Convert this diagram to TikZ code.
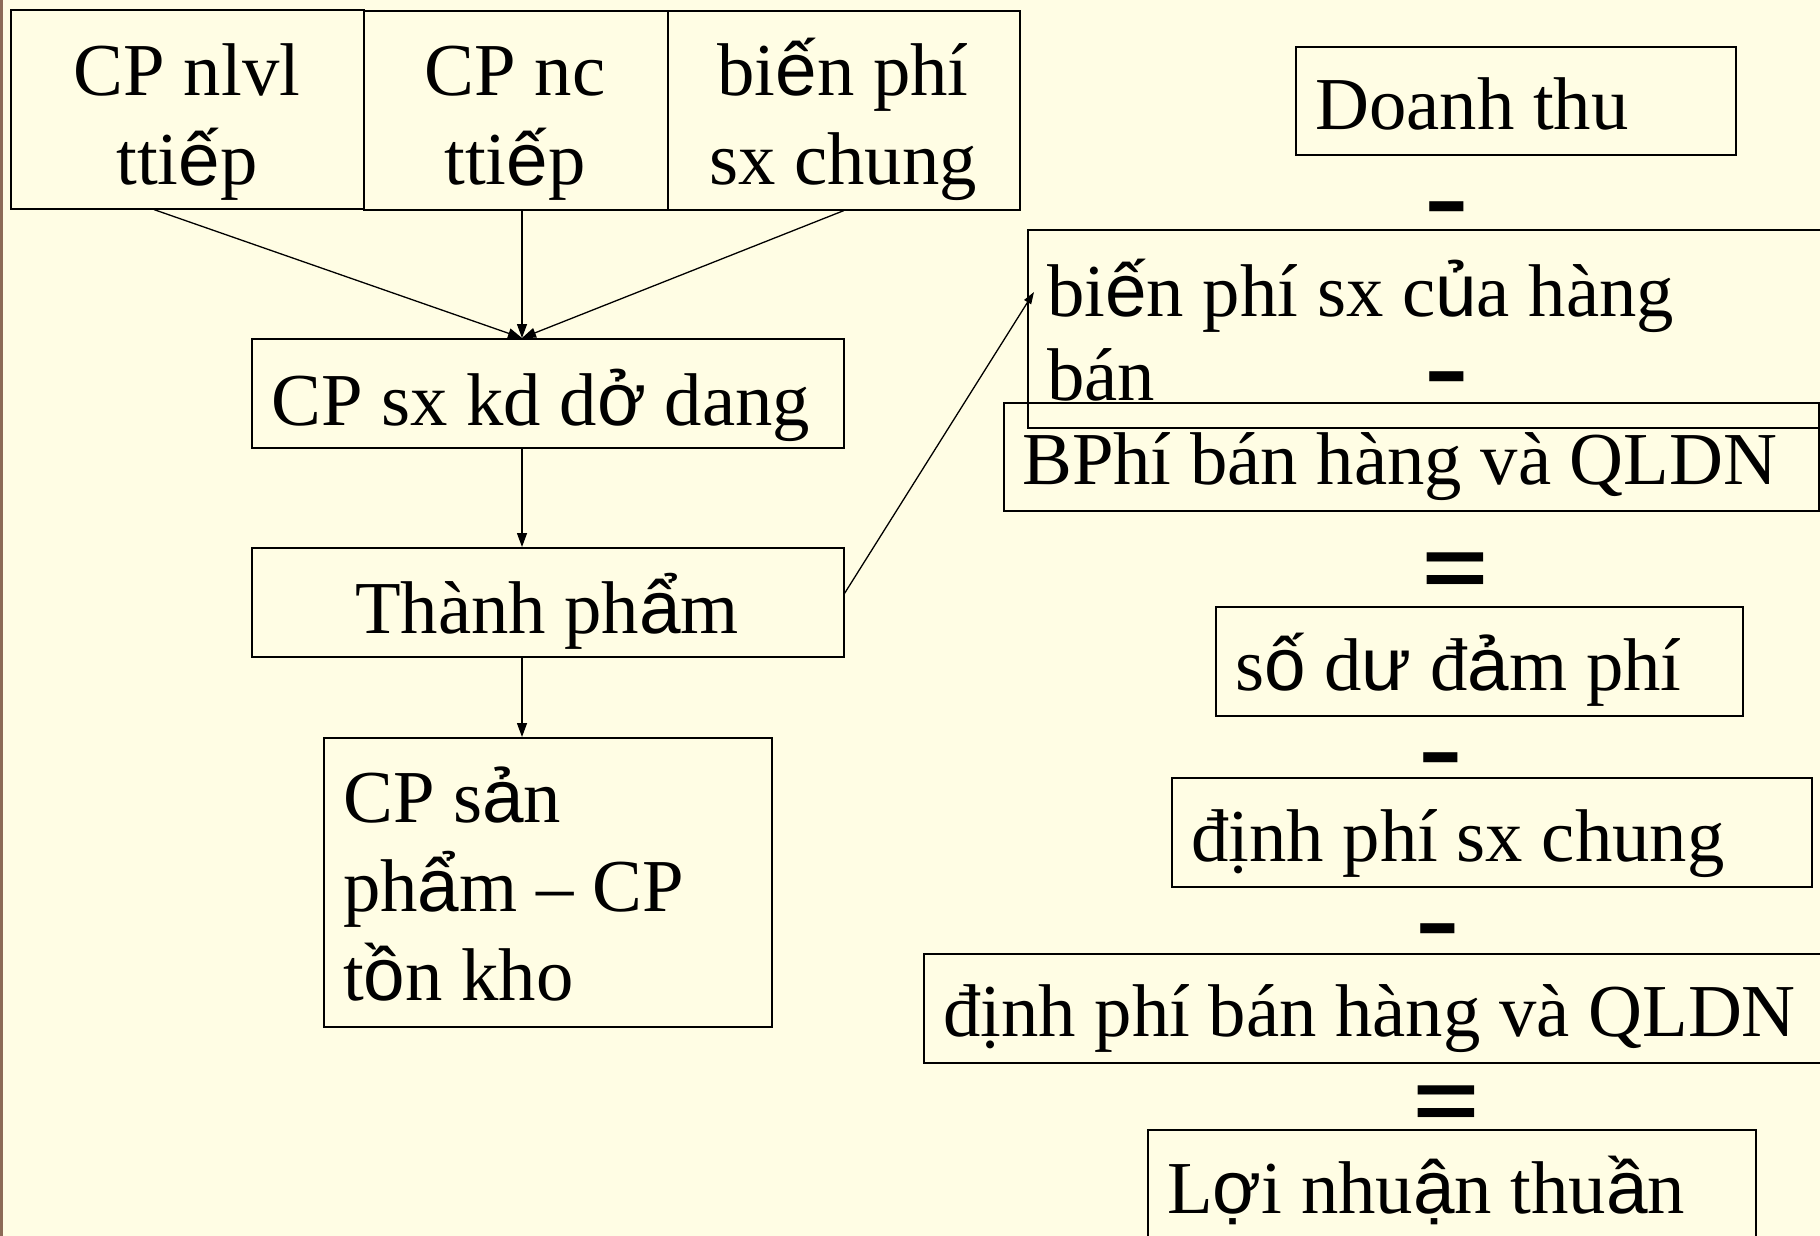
\documentclass[tikz,border=0pt]{standalone}
\usepackage{fontspec}
\setmainfont{Liberation Serif}
\newfontfamily\opfont{Liberation Sans Bold}
\newfontfamily\vnsans{Liberation Sans}
\newcommand\vsf[1]{{\vnsans #1}}
\usetikzlibrary{arrows.meta,calc}
\definecolor{bgcream}{RGB}{255,253,228}
\definecolor{edgebrown}{RGB}{140,106,86}
\begin{document}
\begin{tikzpicture}[x=1pt,y=-1pt,
  box/.style={draw=black, line width=1.6pt, inner sep=0pt, anchor=north west},
  txt/.style={inner sep=0pt, font=\fontsize{74.7}{89}\selectfont},
  arr/.style={line width=1.3pt, -{Triangle[length=14pt,width=10pt]}},
  op/.style={inner sep=0pt, anchor=base, font=\opfont\fontsize{84}{84}\selectfont}]
\fill[bgcream] (0,0) rectangle (1820,1236);
\fill[edgebrown] (0,0) rectangle (3,1236);
\useasboundingbox (0,0) rectangle (1820,1236);
% left column boxes
\node[box, minimum width=353pt, minimum height=199pt] (b1) at (10,9) {};
\node[box, minimum width=304pt, minimum height=199pt] (b2) at (363,10) {};
\node[box, minimum width=352pt, minimum height=199pt] (b3) at (667,10) {};
\node[box, minimum width=592pt, minimum height=109pt] (b4) at (251,338) {};
\node[box, minimum width=592pt, minimum height=109pt] (b5) at (251,547) {};
\node[box, minimum width=448pt, minimum height=289pt] (b6) at (323,737) {};
% right column boxes
\node[box, minimum width=440pt, minimum height=108pt] (r1) at (1295,46) {};
\node[box, minimum width=810pt, minimum height=198pt] (r2) at (1027,229) {};
\node[box, minimum width=815pt, minimum height=108pt] (r3) at (1003,402) {};
\node[box, minimum width=527pt, minimum height=109pt] (r4) at (1215,606) {};
\node[box, minimum width=640pt, minimum height=109pt] (r5) at (1171,777) {};
\node[box, minimum width=910pt, minimum height=109pt] (r6) at (923,953) {};
\node[box, minimum width=608pt, minimum height=140pt] (r7) at (1147,1129) {};
% texts
\node[txt, anchor=base] (t1) at (187,96) {\begin{tabular}[t]{@{}c@{}}CP nlvl\\tti\vsf{ế}p\end{tabular}};
\node[txt, anchor=base] (t2) at (515,96) {\begin{tabular}[t]{@{}c@{}}CP nc\\tti\vsf{ế}p\end{tabular}};
\node[txt, anchor=base] (t3) at (843,96) {\begin{tabular}[t]{@{}c@{}}bi\vsf{ế}n phí\\sx chung\end{tabular}};
\node[txt, anchor=base west] (t4) at (271,425) {CP sx kd d\vsf{ở} dang};
\node[txt, anchor=base] (t5) at (547,633) {Thành ph\vsf{ẩ}m};
\node[txt, anchor=base west] (t6) at (343,822) {\begin{tabular}[t]{@{}l@{}}CP s\vsf{ả}n\\ph\vsf{ẩ}m – CP\\t\vsf{ồ}n kho\end{tabular}};
\node[txt, anchor=base west] (s1) at (1315,130) {Doanh thu};
\node[txt, anchor=base west] (s2) at (1047,316) {\begin{tabular}[t]{@{}l@{}}bi\vsf{ế}n phí sx c\vsf{ủ}a hàng\\[-5pt]bán\end{tabular}};
\node[txt, anchor=base west] (s3) at (1022,484) {BPhí bán hàng và QLDN};
\node[txt, anchor=base west] (s4) at (1235,690) {s\vsf{ố} d\vsf{ư} đ\vsf{ả}m phí};
\node[txt, anchor=base west] (s5) at (1191,861) {định phí sx chung};
\node[txt, anchor=base west] (s6) at (943,1036) {định phí bán hàng và QLDN};
\node[txt, anchor=base west] (s7) at (1167,1213) {L\vsf{ợ}i nhu\vsf{ậ}n thu\vsf{ầ}n};
% operators
\node[op] (o1) at (1447,228) {\scalebox{1.6}[1]{-}};
\node[op] (o2) at (1447,398) {\scalebox{1.6}[1]{-}};
\node[op] (o3) at (1455,596) {\scalebox{1.34}[1]{=}};
\node[op] (o4) at (1441,779) {\scalebox{1.6}[1]{-}};
\node[op] (o5) at (1438,950) {\scalebox{1.6}[1]{-}};
\node[op] (o6) at (1446,1129) {\scalebox{1.34}[1]{=}};
% connectors
\coordinate (m) at ($(b4.north west)+(271,0)$);
\draw[arr] ($(b1.south west)+(144,0)$) -- (m);
\draw[arr] (b2.south -| m) -- (m);
\draw[arr] (b3.south) -- (m);
\draw[arr] (b4.south -| m) -- (b5.north -| m);
\draw[arr] (b5.south -| m) -- (b6.north -| m);
\draw[line width=1.3pt, -{Triangle[length=12pt,width=8pt]}] ($(b5.east)+(0,-9)$) -- ($(r2.north west)+(7,63)$);
\end{tikzpicture}
\end{document}
